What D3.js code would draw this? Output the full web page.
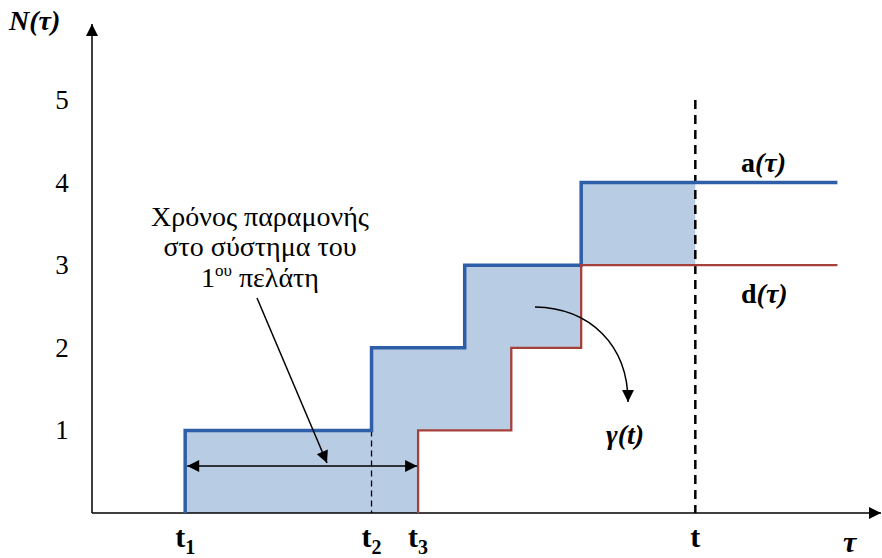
<!DOCTYPE html>
<html><head><meta charset="utf-8">
<script src="https://cdn.jsdelivr.net/npm/d3@7"></script>
</head><body style="margin:0">
<svg id="c" width="882" height="558"></svg>
<script>
// ---- data ----
const yTicks = [1,2,3,4,5];
const arrivalTimes = [2, 6, 8, 10.5];      // a(τ) steps up at these times
const departureTimes = [7, 9, 10.5];       // d(τ) steps up at these times
const tObs = 12.95;                        // observation time t
const tEnd = 16;
const timeLabels = [{main:"t",sub:"1",x:2},{main:"t",sub:"2",x:6},{main:"t",sub:"3",x:7},{main:"t",sub:"",x:12.95}];

const svg = d3.select("#c");
const x = d3.scaleLinear().domain([0,17]).range([92,884]);
const y = d3.scaleLinear().domain([0,5]).range([513,100]);
const FAM = `"Times New Roman", Tinos, "Liberation Serif", FreeSerif, "Nimbus Roman", Times`;
const ff = sel => sel.attr("font-family", FAM).style("font-family", FAM);

const count = (times, v) => times.filter(t => t <= v).length;
const blue = "#2e5ea8", red = "#a6403a", fill = "#b8cce4";

// shaded area between a and d from t1 to t
const bps = Array.from(new Set([...arrivalTimes, ...departureTimes, tObs])).sort((a,b)=>a-b).filter(v=>v<=tObs);
const areaPts = bps.map(v => ({x:v, a:count(arrivalTimes,v), d:count(departureTimes,v)}));
svg.append("path").datum(areaPts)
  .attr("d", d3.area().curve(d3.curveStepAfter).x(p=>x(p.x)).y0(p=>y(p.d)).y1(p=>y(p.a)))
  .attr("fill", fill);

// markers
const defs = svg.append("defs");
defs.append("marker").attr("id","ah").attr("viewBox","0 0 10 10").attr("refX",10).attr("refY",5)
  .attr("markerWidth",12).attr("markerHeight",12).attr("markerUnits","userSpaceOnUse").attr("orient","auto-start-reverse")
  .append("path").attr("d","M0,0L10,5L0,10Z").attr("fill","#000");
defs.append("marker").attr("id","ah2").attr("viewBox","0 0 10 10").attr("refX",10).attr("refY",5)
  .attr("markerWidth",14).attr("markerHeight",12).attr("markerUnits","userSpaceOnUse").attr("orient","auto-start-reverse")
  .append("path").attr("d","M0,0L10,5L0,10Z").attr("fill","#000");

// axes
svg.append("line").attr("x1",x(0)).attr("y1",y(0)).attr("x2",881).attr("y2",y(0)).attr("stroke","#000").attr("stroke-width",1.5).attr("marker-end","url(#ah)");
svg.append("line").attr("x1",x(0)).attr("y1",y(0)).attr("x2",x(0)).attr("y2",24).attr("stroke","#000").attr("stroke-width",1.5).attr("marker-end","url(#ah)");

// y tick labels
svg.selectAll(".yt").data(yTicks).join("text").attr("class","yt").call(ff)
  .attr("x",62).attr("y",d=>y(d)+9).attr("text-anchor","middle").attr("font-size",27).text(d=>d);

// t2 dashed line
svg.append("line").attr("x1",x(6)).attr("x2",x(6)).attr("y1",y(1)).attr("y2",y(0))
  .attr("stroke","#000").attr("stroke-width",1.3).attr("stroke-dasharray","6,4");
// observation time dashed line
svg.append("line").attr("x1",x(tObs)).attr("x2",x(tObs)).attr("y1",y(5)).attr("y2",y(0))
  .attr("stroke","#000").attr("stroke-width",2.5).attr("stroke-dasharray","9,6");

// step lines
const line = d3.line().curve(d3.curveStepAfter).x(p=>x(p[0])).y(p=>y(p[1]));
const aPts = [[arrivalTimes[0],0], ...arrivalTimes.map((t,i)=>[t,i+1]), [tEnd, arrivalTimes.length]];
const dPts = [[departureTimes[0],0], ...departureTimes.map((t,i)=>[t,i+1]), [tEnd, departureTimes.length]];
svg.append("path").attr("d",line(aPts)).attr("fill","none").attr("stroke",blue).attr("stroke-width",3.5);
svg.append("path").attr("d",line(dPts)).attr("fill","none").attr("stroke",red).attr("stroke-width",2.3);

// double arrow t1 - t3
svg.append("line").attr("x1",x(2)+2).attr("x2",x(7)-1).attr("y1",466).attr("y2",466)
  .attr("stroke","#000").attr("stroke-width",1.5).attr("marker-start","url(#ah2)").attr("marker-end","url(#ah2)");

// annotation text
const annLines = ["Χρόνος παραμονής","στο σύστημα του"];
annLines.forEach((s,i) => svg.append("text").call(ff).attr("text-anchor","middle").attr("font-size",28)
  .attr("x",260).attr("y",226+i*30).text(s));
const l3 = svg.append("text").call(ff).attr("text-anchor","middle").attr("font-size",28).attr("x",260).attr("y",287);
l3.append("tspan").text("1");
l3.append("tspan").attr("font-size",17).attr("dy",-11).text("ου");
l3.append("tspan").attr("dy",11).text(" πελάτη");
svg.append("line").attr("x1",257).attr("y1",298).attr("x2",327).attr("y2",463)
  .attr("stroke","#000").attr("stroke-width",1.5).attr("marker-end","url(#ah2)");

// curved arrow to γ(t)
svg.append("path").attr("d","M535,307 C590,308 628,345 628,402").attr("fill","none")
  .attr("stroke","#000").attr("stroke-width",1.5).attr("marker-end","url(#ah2)");

// labels
function lab(xp, yp, parts, size){
  const t = svg.append("text").call(ff).attr("x",xp).attr("y",yp).attr("font-size",size).attr("font-weight","bold");
  parts.forEach(p => t.append("tspan").attr("font-style",p[1]?"italic":"normal").text(p[0]));
  return t;
}
lab(741,172,[["a",false],["(τ)",true]],28);
lab(741,303,[["d",false],["(τ)",true]],28);
lab(606,444,[["γ(t)",true]],28);
lab(9,30,[["N(τ)",true]],28);
lab(843,552,[["τ",true]],30);

// time labels
timeLabels.forEach(d => {
  const t = svg.append("text").call(ff).attr("x",x(d.x)).attr("y",547).attr("font-weight","bold").attr("font-size",30)
    .attr("text-anchor","middle");
  t.append("tspan").text(d.main);
  if (d.sub) t.append("tspan").attr("font-size",20).attr("dy",7).text(d.sub);
});
</script></body></html>
